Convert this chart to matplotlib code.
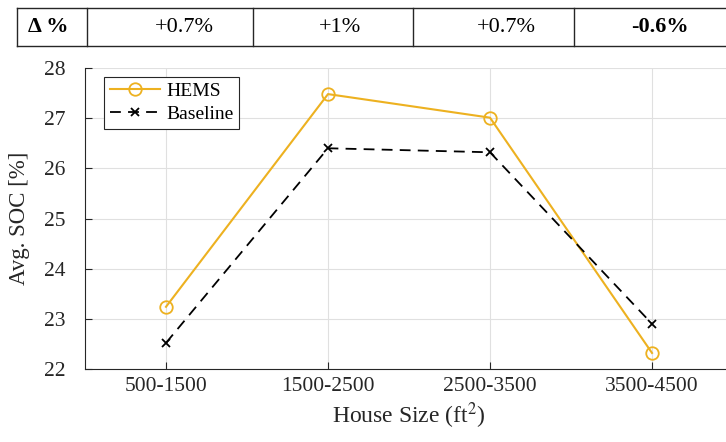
import matplotlib
matplotlib.use("Agg")
import matplotlib.pyplot as plt
from matplotlib.lines import Line2D

categories = ["500-1500", "1500-2500", "2500-3500", "3500-4500"]
hems = [23.24, 27.48, 27.01, 22.32]
baseline = [22.52, 26.40, 26.32, 22.90]
delta_labels = ["+0.7%", "+1%", "+0.7%", "-0.6%"]

plt.rcParams['font.family'] = ['Liberation Serif', 'DejaVu Serif']
plt.rcParams['mathtext.fontset'] = 'stix'

W, H = 726, 442
fig = plt.figure(figsize=(W/100, H/100), dpi=100)

# axes: left 85, right 733, top 68, bottom 369 (pixels)
ax = fig.add_axes([85/W, 1-369/H, (733-85)/W, (369-68)/H])
x = list(range(1, len(categories)+1))
ax.plot(x, hems, color='#EDB120', lw=1.5, marker='o', ms=9, mfc='none', mew=1.3, label='HEMS')
ax.plot(x, baseline, color='black', lw=1.3, ls=(0, (6, 4)), marker='x', ms=6, mew=1.3, label='Baseline')
ax.set_xlim(0.5, 4.5)
ax.set_ylim(22, 28)
ax.set_xticks(x)
ax.set_xticklabels(categories)
ax.set_yticks(range(22, 29))
ax.grid(True, color='#e0e0e0', lw=0.8)
ax.set_axisbelow(True)
for s in ['top', 'right']:
    ax.spines[s].set_visible(False)
for s in ['left', 'bottom']:
    ax.spines[s].set_color('#262626')
    ax.spines[s].set_linewidth(0.8)
ax.tick_params(direction='in', length=5, width=0.8, labelsize=15.5, colors='#262626')
ax.tick_params(axis='y', pad=14)
ax.tick_params(axis='x', pad=6)
ax.set_ylabel('Avg. SOC [%]', fontsize=16.5, color='#262626', labelpad=10)
ax.set_xlabel('House Size (ft$^2$)', fontsize=17, color='#262626', labelpad=3)
leg = ax.legend(loc='upper left', bbox_to_anchor=(0.02, 0.99), fontsize=14, frameon=True,
                fancybox=False, edgecolor='#262626', framealpha=1, handlelength=2.6,
                borderpad=0.3, labelspacing=0.25, handletextpad=0.3, borderaxespad=0.3)
leg.get_frame().set_linewidth(0.8)

# table at top
top, bot = 8, 46
xs = [17, 87, 253, 413, 574, 740]
def fx(p): return p / W
def fy(p): return 1 - p / H
lc = '#262626'
fig.add_artist(Line2D([fx(17), fx(740)], [fy(top), fy(top)], color=lc, lw=1.0))
fig.add_artist(Line2D([fx(17), fx(740)], [fy(bot), fy(bot)], color=lc, lw=1.0))
for xv in xs[:-1]:
    fig.add_artist(Line2D([fx(xv), fx(xv)], [fy(top), fy(bot)], color=lc, lw=1.0))
ymid = fy((top + bot) / 2)
fig.text(fx(48), ymid, 'Δ %', fontsize=16, fontweight='bold', ha='center', va='center')
centers = [184, 340, 506, 660]
for c, lab in zip(centers, delta_labels):
    bold = lab.startswith('-')
    fig.text(fx(c), ymid, lab, fontsize=16, fontweight='bold' if bold else 'normal',
             ha='center', va='center')

fig.savefig('out.png', dpi=100)
